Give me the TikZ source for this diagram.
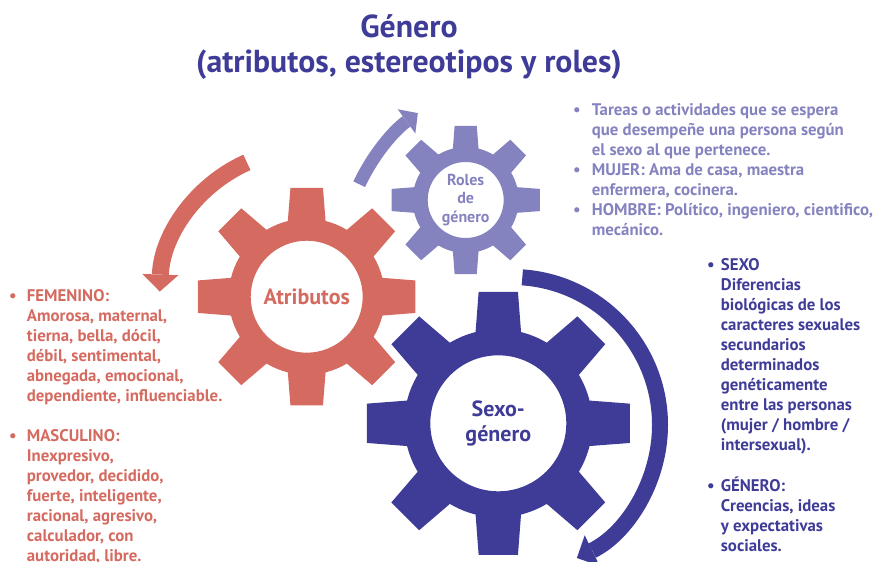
\documentclass[tikz,border=0pt]{standalone}
\usepackage{fontspec}
\setmainfont{PT Sans}
\usepackage{tikz}
\usetikzlibrary{arrows.meta}
\usetikzlibrary{positioning}

\definecolor{sgblue}{RGB}{63,60,152}
\definecolor{rolpurple}{RGB}{133,131,191}
\definecolor{atrired}{RGB}{212,106,96}

\tikzstyle{title} = [font=\bfseries\fontsize{31.8}{36}\selectfont, text=sgblue, anchor=base, inner sep=0pt]
\tikzstyle{gearlabel} = [font=\bfseries\fontsize{22}{25}\selectfont, align=center, inner sep=0pt]
\tikzstyle{bulletlist} = [font=\bfseries\fontsize{16.8}{20}\selectfont, anchor=base west, inner sep=0pt]
\tikzstyle{turn} = [line cap=butt]

\newcommand{\lb}{\makebox[8pt]{\textbullet}}

% gear: centre x, centre y, tip radius, body radius, hole radius, colour
\newcommand{\drawgear}[6]{%
  \begin{scope}[shift={(#1,#2)}]
    \fill[#6, even odd rule] (-31:#4)
      \foreach \a in {0,45,...,315} {
        arc[start angle=\a-31, end angle=\a-14, radius=#4]
        -- (\a-8.5:#3) -- (\a+8.5:#3) -- (\a+14:#4)
      } -- cycle
      (0,0) circle[radius=#5];
  \end{scope}}

\begin{document}
\begin{tikzpicture}[x=1pt, y=1pt]
  \useasboundingbox (0,0) rectangle (876,-562);

  % Gears
  \drawgear{306.7}{-296.7}{110}{78}{56}{atrired}
  \drawgear{465.7}{-200}{75}{53}{38}{rolpurple}
  \drawgear{498.3}{-423.3}{133}{94}{68}{sgblue}

  % Turning arrows
  \draw[turn, atrired, line width=17pt, -{Triangle[length=17pt, width=36pt, line width=0pt]}]
    (306.7,-296.7) ++(114:147) arc[start angle=114, end angle=178, radius=147];
  \draw[turn, rolpurple, line width=13pt, -{Triangle[length=14pt, width=30pt, line width=0pt]}]
    (526,-262) ++(155:184) arc[start angle=155, end angle=126, radius=184];
  \draw[turn, sgblue, line width=16pt, -{Triangle[length=17pt, width=34pt, line width=0pt]}]
    (512,-425) ++(86:148) arc[start angle=86, end angle=-64, radius=148];

  % Title
  \node[title] (gen) at (409,-37) {Género};
  \node[title] (sub) at (409,-72) {(atributos, estereotipos y roles)};

  % Gear labels
  \node[gearlabel, text=atrired] (atri) at (306.7,-296.7) {Atributos};
  \node[gearlabel, text=sgblue] (sexo) at (498.3,-423.3) {Sexo-\\género};
  \node[gearlabel, text=rolpurple, font=\bfseries\fontsize{16}{18.5}\selectfont] (roles) at (465.7,-200) {Roles\\de\\género};

  % Roles list
  \node[bulletlist, text=rolpurple] (tareas) at (572.7,-115) {%
    \begin{tabular}[t]{@{}l@{\hspace{11pt}}l@{}}
      \lb & Tareas o actividades que se espera\\
          & que desempeñe una persona según\\
          & el sexo al que pertenece.\\
      \lb & MUJER: Ama de casa, maestra\\
          & enfermera, cocinera.\\
      \lb & HOMBRE: Político, ingeniero, cientifico,\\
          & mecánico.
    \end{tabular}};

  % Atributos list
  \node[bulletlist, text=atrired] (fem) at (8.7,-301.7) {%
    \begin{tabular}[t]{@{}l@{\hspace{10pt}}l@{}}
      \lb & FEMENINO:\\
          & Amorosa, maternal,\\
          & tierna, bella, dócil,\\
          & débil, sentimental,\\
          & abnegada, emocional,\\
          & dependiente, influenciable.\\
          & \\
      \lb & MASCULINO:\\
          & Inexpresivo,\\
          & provedor, decidido,\\
          & fuerte, inteligente,\\
          & racional, agresivo,\\
          & calculador, con\\
          & autoridad, libre.
    \end{tabular}};

  % Sexo-genero list
  \node[bulletlist, text=sgblue] (sexolist) at (706.7,-270.7) {%
    \begin{tabular}[t]{@{}l@{\hspace{6pt}}l@{}}
      \lb & SEXO\\
          & Diferencias\\
          & biológicas de los\\
          & caracteres sexuales\\
          & secundarios\\
          & determinados\\
          & genéticamente\\
          & entre las personas\\
          & (mujer / hombre /\\
          & intersexual).\\
          & \\
      \lb & GÉNERO:\\
          & Creencias, ideas\\
          & y expectativas\\
          & sociales.
    \end{tabular}};
\end{tikzpicture}
\end{document}
